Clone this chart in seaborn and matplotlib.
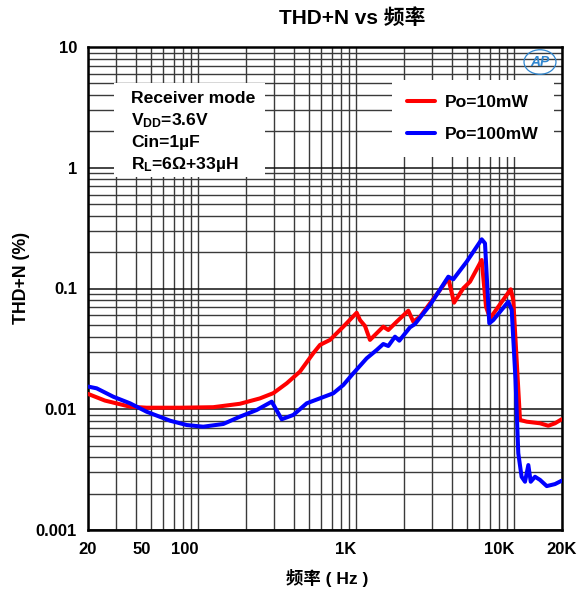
import numpy as np
import pandas as pd
import matplotlib
matplotlib.use("Agg")
import matplotlib.pyplot as plt
import matplotlib.ticker as mticker
from matplotlib.patches import Rectangle
from matplotlib.lines import Line2D
import seaborn as sns

# ---- data ----
red_freq = [20, 25.6, 36.9, 47, 76.4, 124, 183, 245, 298, 362, 439, 533, 588, 680, 826,
            1004, 1053, 1133, 1218, 1479, 1591, 1798, 2130, 2291, 2526, 2922, 3380, 3815,
            4147, 4746, 5233, 6206, 6607, 7006, 9470, 9836, 10846, 11956, 14516, 16380,
            18060, 19900]
red_thd = [0.0134, 0.0118, 0.0105, 0.0103, 0.0103, 0.0104, 0.0111, 0.0123, 0.0136, 0.0164,
           0.0205, 0.0291, 0.0341, 0.0375, 0.0483, 0.0630, 0.0548, 0.0489, 0.0375, 0.0483,
           0.0453, 0.0531, 0.0655, 0.0531, 0.0584, 0.0754, 0.0972, 0.1215, 0.0763, 0.1004,
           0.1138, 0.1722, 0.0707, 0.0566, 0.0985, 0.0803, 0.00815, 0.00789, 0.00765,
           0.0073, 0.00765, 0.00826]

blue_freq = [20.1, 22.7, 28.9, 36.9, 47, 66.1, 84.3, 107.3, 143.6, 183, 233.8, 290.9, 336.4,
             398.6, 484.6, 588, 713.8, 826, 955.3, 1161, 1343, 1479, 1591, 1754, 1868, 2183,
             2347, 2922, 3815, 4103, 4986, 6206, 6511, 6931, 7348, 9146, 9608, 10160, 10576,
             11100, 11665, 12245, 12680, 13500, 14516, 16010, 18060, 19900]
blue_thd = [0.0154, 0.0149, 0.0127, 0.0112, 0.00954, 0.00804, 0.0074, 0.00717, 0.00755,
            0.00868, 0.00986, 0.01155, 0.00826, 0.00897, 0.0112, 0.01232, 0.01356, 0.01588,
            0.01984, 0.02642, 0.03095, 0.0347, 0.0334, 0.0399, 0.03697, 0.0477, 0.0508,
            0.073, 0.1252, 0.1192, 0.1667, 0.2555, 0.2367, 0.0515, 0.0548, 0.0778, 0.0664,
            0.01747, 0.00432, 0.00276, 0.00251, 0.00345, 0.00251, 0.00276, 0.0026, 0.00231,
            0.0024, 0.00256]

series_names = ["Po=10mW", "Po=100mW"]
series_colors = ["#ff0000", "#0000ff"]

x_ticks = [20, 50, 100, 1000, 10000, 20000]
x_ticklabels = ["20", "50", "100", "1K", "10K", "20K"]
y_ticks = [0.001, 0.01, 0.1, 1, 10]
y_ticklabels = ["0.001", "0.01", "0.1", "1", "10"]

info_lines = ["Receiver mode", r"V$_{\mathbf{DD}}$=3.6V", "Cin=1µF", r"R$_{\mathbf{L}}$=6Ω+33µH"]

# ---- style ----
sns.set_theme(style="white")
plt.rcParams["font.family"] = ["Liberation Sans", "Noto Sans CJK SC", "DejaVu Sans"]
plt.rcParams["font.weight"] = "bold"
plt.rcParams["text.color"] = "black"
plt.rcParams["axes.labelcolor"] = "black"
plt.rcParams["xtick.color"] = "black"
plt.rcParams["ytick.color"] = "black"
plt.rcParams["mathtext.fontset"] = "custom"
plt.rcParams["mathtext.rm"] = "Liberation Sans:bold"
plt.rcParams["mathtext.bf"] = "Liberation Sans:bold"
plt.rcParams["mathtext.it"] = "Liberation Sans:bold"

df = pd.concat([
    pd.DataFrame({"freq": red_freq, "thd": red_thd, "series": series_names[0]}),
    pd.DataFrame({"freq": blue_freq, "thd": blue_thd, "series": series_names[1]}),
])

fig = plt.figure(figsize=(5.81, 5.94), dpi=100)
ax = fig.add_axes([88 / 581, 1 - 530 / 594, 474 / 581, 483 / 594])

sns.lineplot(data=df, x="freq", y="thd", hue="series", hue_order=series_names,
             palette=dict(zip(series_names, series_colors)), estimator=None, sort=False,
             lw=2.9, ax=ax, legend=False, zorder=3)

ax.set_xscale("log")
ax.set_yscale("log")
ax.set_xlim(20, 20000)
ax.set_ylim(0.001, 10)

ax.xaxis.set_major_locator(mticker.FixedLocator(x_ticks))
ax.xaxis.set_minor_locator(mticker.LogLocator(base=10, subs=np.arange(2, 10), numticks=20))
ax.xaxis.set_minor_formatter(mticker.NullFormatter())
ax.set_xticklabels(x_ticklabels)
ax.yaxis.set_major_locator(mticker.FixedLocator(y_ticks))
ax.yaxis.set_minor_locator(mticker.LogLocator(base=10, subs=np.arange(2, 10), numticks=20))
ax.yaxis.set_minor_formatter(mticker.NullFormatter())
ax.set_yticklabels(y_ticklabels)

ax.set_axisbelow(True)
ax.grid(True, which="both", axis="x", color="#3a3a3a", lw=1.0)
ax.grid(True, which="major", axis="y", color="#111111", lw=1.1)
ax.grid(True, which="minor", axis="y", color="#3a3a3a", lw=1.0)

ax.tick_params(axis="both", which="both", length=0, colors="black")
ax.tick_params(axis="x", pad=9, labelsize=12)
ax.tick_params(axis="y", pad=8, labelsize=12)
for lab in ax.get_xticklabels() + ax.get_yticklabels():
    lab.set_fontweight("bold")
    lab.set_color("black")
for lab, t in zip(ax.get_xticklabels(), x_ticklabels):
    if t not in ("20", "20K"):
        lab.set_horizontalalignment("right")

for s in ax.spines.values():
    s.set_visible(True)
    s.set_color("black")
    s.set_linewidth(1.8)

ax.set_xlabel("")
ax.set_ylabel("")

# info box
box_top, box_bot = 83.0, 177.0
ax.add_patch(Rectangle(((114 - 88) / 474, (530 - box_bot) / 483), (265 - 114) / 474,
                       (box_bot - box_top) / 483, transform=ax.transAxes, facecolor="white",
                       edgecolor="none", zorder=1))
baselines = [103.0, 125.5, 147.5, 168.5]
for txt, yb in zip(info_lines, baselines):
    ax.text((131 - 88) / 474, (530 - yb) / 483, txt, transform=ax.transAxes,
            fontsize=12.6, fontweight="bold", ha="left", va="baseline", zorder=4,
            color="black")

# legend
handles = [Line2D([], [], color=c, lw=2.9) for c in series_colors]
leg = ax.legend(handles, series_names, loc="upper left",
                bbox_to_anchor=((392 - 88) / 474, (530 - 80) / 483),
                borderaxespad=0, frameon=True, fancybox=False, framealpha=1,
                facecolor="white", edgecolor="none",
                handlelength=1.6, handletextpad=0.6, labelspacing=0.95,
                borderpad=0.85, prop={"weight": "bold", "size": 12.6})
for t in leg.get_texts():
    t.set_color("black")

# logo
ax.text((540 - 88) / 474, (530 - 62) / 483, "AP", transform=ax.transAxes, fontsize=10,
        style="italic", color="#2f86d0", ha="center", va="center", zorder=4,
        bbox=dict(boxstyle="ellipse,pad=0.12", facecolor="none", edgecolor="#2f86d0", lw=0.9))

# titles
fig.text(352 / 581, 1 - 18 / 594, "THD+N vs 频率", ha="center", va="center",
         fontsize=15, fontweight="bold", color="black")
fig.text(327 / 581, 1 - 578 / 594, "频率 ( Hz )", ha="center", va="center",
         fontsize=12.5, fontweight="bold", color="black")
fig.text(22 / 581, 1 - 278 / 594, "THD+N (%)", ha="center", va="center", rotation=90,
         fontsize=12.8, fontweight="bold", color="black")

fig.savefig("out.png", dpi=100)
